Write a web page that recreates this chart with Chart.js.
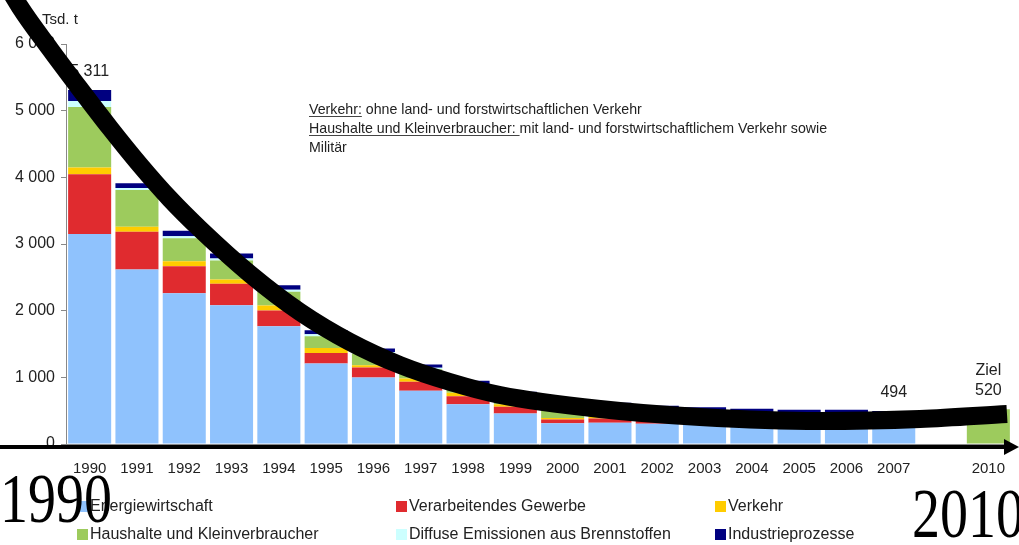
<!DOCTYPE html>
<html>
<head>
<meta charset="utf-8">
<script src="https://cdn.jsdelivr.net/npm/chart.js@4"></script>
<style>
  html, body { margin: 0; padding: 0; background: #fff; }
  #wrap { width: 1019px; height: 545px; position: relative; }
</style>
</head>
<body>
<div id="wrap"><canvas id="chart"></canvas></div>
<script>
// categories (blank slot between 2007 and 2010)
const years = ['1990', '1991', '1992', '1993', '1994', '1995', '1996', '1997', '1998', '1999',
               '2000', '2001', '2002', '2003', '2004', '2005', '2006', '2007', '', '2010'];

// Tsd. t per sector
const energie   = [3151, 2617, 2263, 2083, 1765, 1207, 997, 797, 598, 459, 310, 318, 305, 300, 295, 292, 295, 285, null, null];
const gewerbe   = [897, 568, 404, 320, 239, 158, 150, 135, 120, 99, 59, 66, 68, 65, 63, 62, 62, 60, null, null];
const verkehr   = [100, 75, 74, 64, 75, 75, 34, 50, 49, 40, 20, 20, 10, 8, 6, 5, 4, 3, null, null];
const haushalte = [908, 549, 344, 285, 204, 175, 175, 140, 105, 109, 176, 139, 107, 95, 80, 72, 70, 64, null, null];
const diffuse   = [90, 30, 30, 30, 30, 30, 24, 20, 21, 21, 20, 20, 25, 25, 24, 22, 22, 22, null, null];
const industrie = [165, 74, 85, 74, 69, 60, 51, 51, 54, 54, 60, 55, 60, 60, 60, 60, 60, 60, null, null];
const ziel      = [null, null, null, null, null, null, null, null, null, null,
                   null, null, null, null, null, null, null, null, null, 520];

// value labels above bars
const labelIndex = [0, 17, 19];
const labelText  = [['5 311'], ['494'], ['Ziel', '520']];

// hand-drawn trend curve (x in category positions, y in Tsd. t)
const curveX = [-2.107, -1.473, -0.838, -0.204, 0.430, 1.064, 1.699, 2.333, 3.390, 4.447, 5.504,
                6.561, 7.618, 8.675, 10.790, 12.904, 15.441, 17.555, 19.394];
const curveY = [7320, 6555, 5925, 5325, 4740, 4185, 3675, 3225, 2550, 1980, 1530,
                1185, 930, 735, 525, 405, 345, 375, 450];

const seriesNames = ['Energiewirtschaft', 'Verarbeitendes Gewerbe', 'Verkehr',
                     'Haushalte und Kleinverbraucher', 'Diffuse Emissionen aus Brennstoffen', 'Industrieprozesse'];
const seriesColors = ['#8fc2fd', '#e02b2f', '#ffcc00', '#9dcb5d', '#ccffff', '#000080'];
const seriesData = [energie, gewerbe, verkehr, haushalte, diffuse, industrie];

const FONT = '"Liberation Sans", Arial, sans-serif';
const TEXT = '#222';

function thousands(v) {
    return String(v).replace(/\B(?=(\d{3})+(?!\d))/g, ' ');
}

function barSet(label, data, color) {
    return {
        label: label,
        data: data,
        backgroundColor: color,
        borderWidth: 0,
        stack: 'main',
        grouped: false,
        categoryPercentage: 1,
        barPercentage: 0.91,
        order: 1
    };
}

const datasets = seriesData.map((d, i) => barSet(seriesNames[i], d, seriesColors[i]));
datasets.push(barSet('Ziel', ziel, seriesColors[3]));
datasets.push({
    type: 'line',
    label: 'Trend',
    data: curveX.map((x, i) => ({ x: x, y: curveY[i] })),
    xAxisID: 'xc',
    yAxisID: 'y',
    stack: 'curve',
    borderColor: '#000',
    borderWidth: 18,
    borderCapStyle: 'butt',
    pointRadius: 0,
    cubicInterpolationMode: 'monotone',
    fill: false,
    clip: false,
    order: 0
});

// texts drawn beneath the data
const backText = {
    id: 'backText',
    beforeDatasetsDraw(chart) {
        const ctx = chart.ctx;
        const x = chart.scales.x, y = chart.scales.y;
        ctx.save();
        ctx.fillStyle = TEXT;
        ctx.font = '15px ' + FONT;
        ctx.textAlign = 'left';
        ctx.textBaseline = 'middle';
        ctx.fillText('Tsd. t', 42, 20);

        // bar value labels
        ctx.font = '16px ' + FONT;
        ctx.textAlign = 'center';
        ctx.textBaseline = 'alphabetic';
        labelIndex.forEach((idx, k) => {
            let total = 0;
            chart.data.datasets.forEach(ds => {
                if (ds.type !== 'line' && ds.data[idx] != null) total += ds.data[idx];
            });
            const px = x.getPixelForValue(idx);
            const top = y.getPixelForValue(total);
            const lines = labelText[k];
            lines.forEach((t, j) => {
                ctx.fillText(t, px, top - 14 - (lines.length - 1 - j) * 20);
            });
        });

        // explanatory note
        ctx.font = '14.2px ' + FONT;
        ctx.textAlign = 'left';
        ctx.strokeStyle = '#444';
        ctx.lineWidth = 1;
        const nx = 309;
        const notes = [
            ['Verkehr:', ' ohne land- und forstwirtschaftlichen Verkehr'],
            ['Haushalte und Kleinverbraucher: ', 'mit land- und forstwirtschaftlichem Verkehr sowie'],
            ['', 'Militär']
        ];
        notes.forEach((n, i) => {
            const by = 114 + i * 19;
            ctx.fillText(n[0], nx, by);
            const w = ctx.measureText(n[0]).width;
            if (n[0]) {
                ctx.beginPath();
                ctx.moveTo(nx, by + 2.5);
                ctx.lineTo(nx + w, by + 2.5);
                ctx.stroke();
            }
            ctx.fillText(n[1], nx + w, by);
        });
        ctx.restore();
    }
};

// arrow, legend and big year marks on top
const frontText = {
    id: 'frontText',
    afterDraw(chart) {
        const ctx = chart.ctx;
        const y0 = chart.scales.y.getPixelForValue(0) + 3;
        const W = chart.width;
        ctx.save();
        // arrow along the x axis
        ctx.strokeStyle = '#000';
        ctx.fillStyle = '#000';
        ctx.lineWidth = 4;
        ctx.beginPath();
        ctx.moveTo(0, y0);
        ctx.lineTo(W - 12, y0);
        ctx.stroke();
        ctx.beginPath();
        ctx.moveTo(W, y0);
        ctx.lineTo(W - 15, y0 - 8);
        ctx.lineTo(W - 15, y0 + 8);
        ctx.closePath();
        ctx.fill();

        // legend, three columns
        const cols = [77, 396, 715];
        const rows = [507, 535];
        ctx.font = '16px ' + FONT;
        ctx.textBaseline = 'middle';
        ctx.textAlign = 'left';
        seriesNames.forEach((name, i) => {
            const cx = cols[i % 3], cy = rows[Math.floor(i / 3)];
            ctx.fillStyle = seriesColors[i];
            ctx.fillRect(cx, cy - 6, 11, 11);
            ctx.fillStyle = TEXT;
            ctx.fillText(name, cx + 13, cy);
        });

        // big years
        ctx.fillStyle = '#000';
        ctx.font = '70px "Liberation Serif", "Times New Roman", serif';
        ctx.textBaseline = 'alphabetic';
        ctx.save();
        ctx.scale(0.8, 1);
        ctx.fillText('1990', 0, 522);
        ctx.fillText('2010', 912 / 0.8, 537);
        ctx.restore();
        ctx.restore();
    }
};

new Chart(document.getElementById('chart'), {
    type: 'bar',
    data: { labels: years, datasets: datasets },
    plugins: [backText, frontText],
    options: {
        responsive: true,
        maintainAspectRatio: false,
        animation: false,
        layout: { padding: { left: 0, right: 7, top: 44, bottom: 0 } },
        plugins: {
            legend: { display: false },
            tooltip: { enabled: false }
        },
        scales: {
            x: {
                type: 'category',
                stacked: true,
                offset: true,
                grid: { offset: true, drawOnChartArea: false, tickLength: 4, color: '#888' },
                border: { color: '#888' },
                ticks: { color: TEXT, font: { family: FONT, size: 15 }, padding: 12, maxRotation: 0, autoSkip: false },
                afterFit(s) { s.height = 101; }
            },
            // hidden axis for the trend curve, same span as the categories
            xc: {
                type: 'linear',
                display: false,
                offset: false,
                bounds: 'data',
                grid: { offset: false },
                afterDataLimits(s) {
                    s.min = -0.5;
                    s.max = years.length - 0.5;
                }
            },
            y: {
                stacked: true,
                min: 0,
                max: 6000,
                grid: { drawOnChartArea: false, tickLength: 5, color: '#888' },
                border: { color: '#888' },
                ticks: {
                    stepSize: 1000,
                    color: TEXT,
                    padding: 6,
                    font: { family: FONT, size: 16 },
                    callback: v => thousands(v)
                },
                afterFit(s) { s.width = 66; }
            }
        }
    }
});
</script>
</body>
</html>
